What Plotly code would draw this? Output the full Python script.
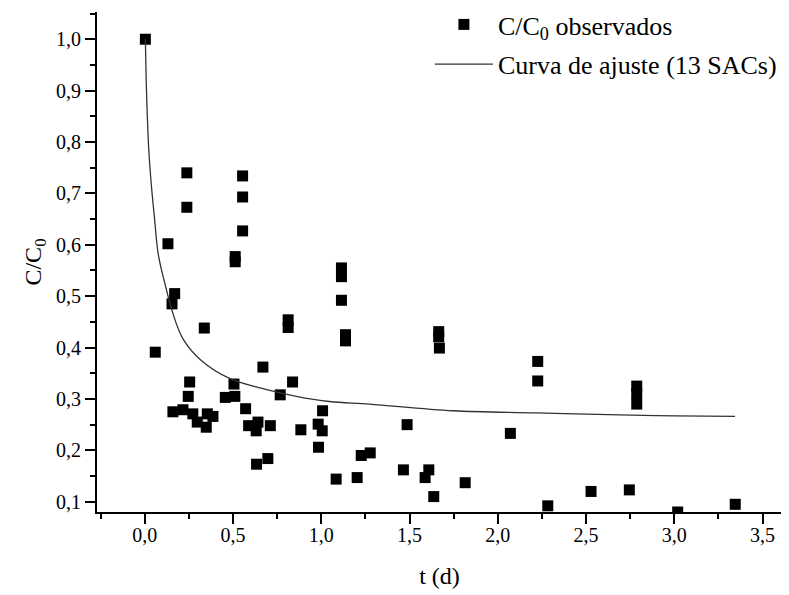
import plotly.graph_objects as go

# Observed points (t in days, C/C0)
t_obs = [0.003, 0.131, 0.154, 0.169, 0.238, 0.238, 0.059, 0.337, 0.512, 0.512, 0.554, 0.554, 0.554,
         1.114, 1.114, 1.114, 0.812, 0.812, 1.137, 1.137, 0.669, 0.254, 0.505, 0.837, 0.246, 0.456,
         0.510, 0.767, 0.571, 1.007, 0.159, 0.216, 0.272, 0.297, 0.354, 0.386, 0.348, 0.588, 0.641,
         0.631, 0.711, 0.884, 0.982, 1.005, 0.984, 0.633, 0.697, 1.084, 1.203, 1.226, 1.277,
         1.665, 1.665, 1.669, 2.226, 2.226, 1.486, 2.071, 1.465, 1.609, 1.588, 1.815, 1.637,
         2.283, 2.528, 2.787, 2.787, 2.787, 2.745, 3.019, 3.345]
c_obs = [1.000, 0.602, 0.485, 0.505, 0.740, 0.673, 0.391, 0.438, 0.577, 0.567, 0.734, 0.693, 0.627,
         0.555, 0.538, 0.492, 0.454, 0.439, 0.425, 0.413, 0.362, 0.333, 0.329, 0.333, 0.305, 0.303,
         0.305, 0.308, 0.281, 0.277, 0.275, 0.279, 0.271, 0.255, 0.271, 0.266, 0.245, 0.248, 0.255,
         0.238, 0.248, 0.240, 0.251, 0.238, 0.206, 0.173, 0.184, 0.144, 0.147, 0.190, 0.195,
         0.431, 0.421, 0.399, 0.373, 0.335, 0.250, 0.233, 0.162, 0.162, 0.147, 0.137, 0.110,
         0.092, 0.120, 0.325, 0.310, 0.290, 0.123, 0.080, 0.095]

# Fitted curve
t_fit = [0.003, 0.008, 0.014, 0.023, 0.037, 0.055, 0.074, 0.093, 0.112, 0.154, 0.216, 0.320,
         0.480, 0.669, 0.858, 1.046, 1.273, 1.745, 2.217, 2.689, 3.010, 3.344]
c_fit = [1.000, 0.917, 0.852, 0.781, 0.716, 0.651, 0.586, 0.553, 0.527, 0.472, 0.417, 0.375,
         0.340, 0.320, 0.305, 0.295, 0.290, 0.277, 0.273, 0.269, 0.267, 0.266]

FONT = "Liberation Serif, Times New Roman, Times, DejaVu Serif, serif"

fig = go.Figure()
fig.add_trace(go.Scatter(
    x=t_obs, y=c_obs, mode="markers",
    marker=dict(symbol="square", size=11, color="black"),
    name="C/C<sub>0</sub> observados", legendgroup="a"))
fig.add_trace(go.Scatter(
    x=t_fit, y=c_fit, mode="lines", line=dict(color="#333333", width=1.3, shape="spline"),
    name="Curva de ajuste (13 SACs)", legendgroup="b"))

fig.update_layout(
    width=781, height=587,
    margin=dict(l=89, r=7, t=4, b=83, autoexpand=False),
    plot_bgcolor="white", paper_bgcolor="white",
    separators=", ",
    font=dict(family=FONT, color="black", size=20),
    legend=dict(x=0.486, y=1.022, xanchor="left", yanchor="top",
                font=dict(family=FONT, size=26, color="black"),
                bgcolor="rgba(0,0,0,0)", itemwidth=58, tracegroupgap=3),
    showlegend=True,
)
fig.update_xaxes(
    range=[-0.271, 3.61], dtick=0.5, tick0=0, tickformat=".1f",
    showgrid=False, zeroline=False, showline=True, linecolor="black", linewidth=2,
    ticks="outside", ticklen=10, tickwidth=2, tickcolor="black",
    minor=dict(dtick=0.25, tick0=0, ticks="outside", ticklen=5, tickwidth=2, tickcolor="black"),
    tickfont=dict(family=FONT, size=20), ticklabelstandoff=-6,
    title=dict(text="t (d)", font=dict(family=FONT, size=24), standoff=22),
)
fig.update_yaxes(
    range=[0.080, 1.053], dtick=0.1, tick0=0, tickformat=".1f",
    showgrid=False, zeroline=False, showline=True, linecolor="black", linewidth=2,
    ticks="outside", ticklen=10, tickwidth=2, tickcolor="black",
    minor=dict(dtick=0.05, tick0=0, ticks="outside", ticklen=5, tickwidth=2, tickcolor="black"),
    tickfont=dict(family=FONT, size=20),
    title=dict(text="C/C<sub>0</sub>", font=dict(family=FONT, size=24), standoff=8),
)

fig.write_html("out.html")
